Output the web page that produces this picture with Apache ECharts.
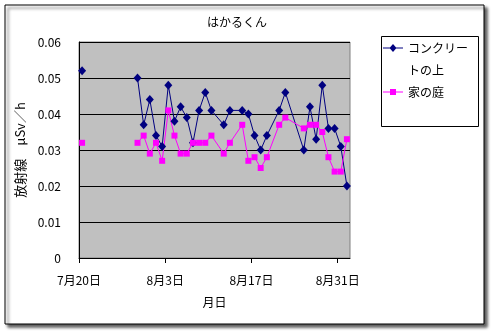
<!doctype html>
<html lang="ja">
<head>
<meta charset="utf-8" />
<title>はかるくん</title>
<script src="https://cdn.jsdelivr.net/npm/echarts@6/dist/echarts.min.js"></script>
<style>
  html, body { margin: 0; padding: 0; background: #fff; }
  #chart { width: 493px; height: 333px; }
</style>
</head>
<body>
<div id="chart"></div>
<script>
// measurement days (month/day), a blank row after 7/20 breaks the lines
const dates = ['7/20', '7/21', '7/29', '7/30', '7/31', '8/1', '8/2', '8/3', '8/4', '8/5', '8/6', '8/7', '8/8', '8/9', '8/10',
  '8/12', '8/13', '8/15', '8/16', '8/17', '8/18', '8/19', '8/21', '8/22', '8/25', '8/26', '8/27', '8/28', '8/29', '8/30', '8/31', '9/1'];
const concrete = [0.052, null, 0.050, 0.037, 0.044, 0.034, 0.031, 0.048, 0.038, 0.042, 0.039, 0.032, 0.041, 0.046, 0.041,
  0.037, 0.041, 0.041, 0.040, 0.034, 0.030, 0.034, 0.041, 0.046, 0.030, 0.042, 0.033, 0.048, 0.036, 0.036, 0.031, 0.020];
const garden = [0.032, null, 0.032, 0.034, 0.029, 0.032, 0.027, 0.041, 0.034, 0.029, 0.029, 0.032, 0.032, 0.032, 0.034,
  0.029, 0.032, 0.037, 0.027, 0.028, 0.025, 0.028, 0.037, 0.039, 0.036, 0.037, 0.037, 0.035, 0.028, 0.024, 0.024, 0.033];
const tickDays = [0, 14, 28, 42]; // 7/20, 8/3, 8/17, 8/31
const axisDays = 44;              // 7/20 .. 9/2

const start = Date.UTC(2011, 6, 20);
const DAY = 86400000;
function dayOf(s) {
  const [m, d] = s.split('/').map(Number);
  return (Date.UTC(2011, m - 1, d) - start) / DAY;
}
function dayLabel(v) {
  const dt = new Date(start + v * DAY);
  return (dt.getUTCMonth() + 1) + '月' + dt.getUTCDate() + '日';
}
// points sit in the middle of their day
const toPoints = vals => dates.map((s, i) => [dayOf(s) + 0.5, vals[i] === null ? '-' : vals[i]]);

// legend icons drawn in a 20x44 box: line + marker; the first one sits on the top text line
const corners = 'M0,0 L0.01,0 L0,0.01 Z M20,44 L19.99,44 L20,43.99 Z ';
const iconConcrete = 'path://' + corners + 'M0,10.5 L20,10.5 L20,11.5 L0,11.5 Z M10,7 L13.5,11 L10,15 L6.5,11 Z';
const iconGarden = 'path://' + corners + 'M0,21.5 L20,21.5 L20,22.5 L0,22.5 Z M7,19 L13,19 L13,25 L7,25 Z';

const font = '"Noto Sans CJK JP", sans-serif';
const chart = echarts.init(document.getElementById('chart'));
chart.setOption({
  animation: false,
  backgroundColor: '#fff',
  textStyle: { fontFamily: font, color: '#000' },
  graphic: [
    {
      type: 'rect', z: -1, silent: true,
      shape: { x: 5, y: 5, width: 479, height: 319 },
      style: { fill: '#fff', stroke: '#000', lineWidth: 1,
        shadowColor: 'rgba(0,0,0,0.65)', shadowOffsetX: 3, shadowOffsetY: 3, shadowBlur: 3 }
    },
    {
      type: 'rect', silent: true,
      shape: { x: 381.5, y: 36.5, width: 97, height: 90 },
      style: { fill: 'none', stroke: '#000', lineWidth: 1 }
    }
  ],
  title: {
    text: 'はかるくん',
    left: 207, top: 16, padding: 0,
    textStyle: { fontFamily: font, fontSize: 12, fontWeight: 'normal', color: '#000' }
  },
  legend: {
    orient: 'vertical',
    left: 383, top: 37, padding: 0,
    itemGap: -11, itemWidth: 20, itemHeight: 44,
    itemStyle: { borderWidth: 0 },
    textStyle: { fontFamily: font, fontSize: 12, color: '#000', lineHeight: 22, width: 66, overflow: 'break' },
    data: [
      { name: 'コンクリートの上', icon: iconConcrete },
      { name: '家の庭', icon: iconGarden }
    ]
  },
  grid: {
    left: 79, top: 42, width: 271, height: 216,
    show: true, backgroundColor: '#c0c0c0', borderColor: '#808080', borderWidth: 1
  },
  xAxis: {
    type: 'value', min: 0, max: axisDays, interval: 14,
    name: '月日', nameLocation: 'middle', nameGap: 38,
    nameTextStyle: { fontFamily: font, fontSize: 12, color: '#000' },
    axisLine: { lineStyle: { color: '#000', width: 1 } },
    axisTick: { show: true, length: 5, customValues: tickDays, lineStyle: { color: '#000' } },
    axisLabel: { customValues: tickDays, formatter: dayLabel, margin: 16,
      fontFamily: font, fontSize: 12, color: '#000' },
    splitLine: { show: false }
  },
  yAxis: {
    type: 'value', min: 0, max: 0.06, interval: 0.01,
    name: '放射線　μSv／h', nameLocation: 'middle', nameGap: 40,
    nameTextStyle: { fontFamily: font, fontSize: 13, color: '#000' },
    axisLine: { show: true, lineStyle: { color: '#000', width: 1 } },
    axisTick: { show: false },
    axisLabel: { formatter: v => v === 0 ? '0' : v.toFixed(2), margin: 18,
      fontFamily: font, fontSize: 12, color: '#000' },
    splitLine: { lineStyle: { color: '#000', width: 1 } }
  },
  series: [
    {
      name: 'コンクリートの上', type: 'line', data: toPoints(concrete),
      symbol: 'diamond', symbolSize: [8, 9], connectNulls: false,
      itemStyle: { color: '#000080' }, lineStyle: { color: '#000080', width: 1 }
    },
    {
      name: '家の庭', type: 'line', data: toPoints(garden),
      symbol: 'rect', symbolSize: 6, connectNulls: false,
      itemStyle: { color: '#ff00ff' }, lineStyle: { color: '#ff00ff', width: 1 }
    }
  ]
});
</script>
</body>
</html>
